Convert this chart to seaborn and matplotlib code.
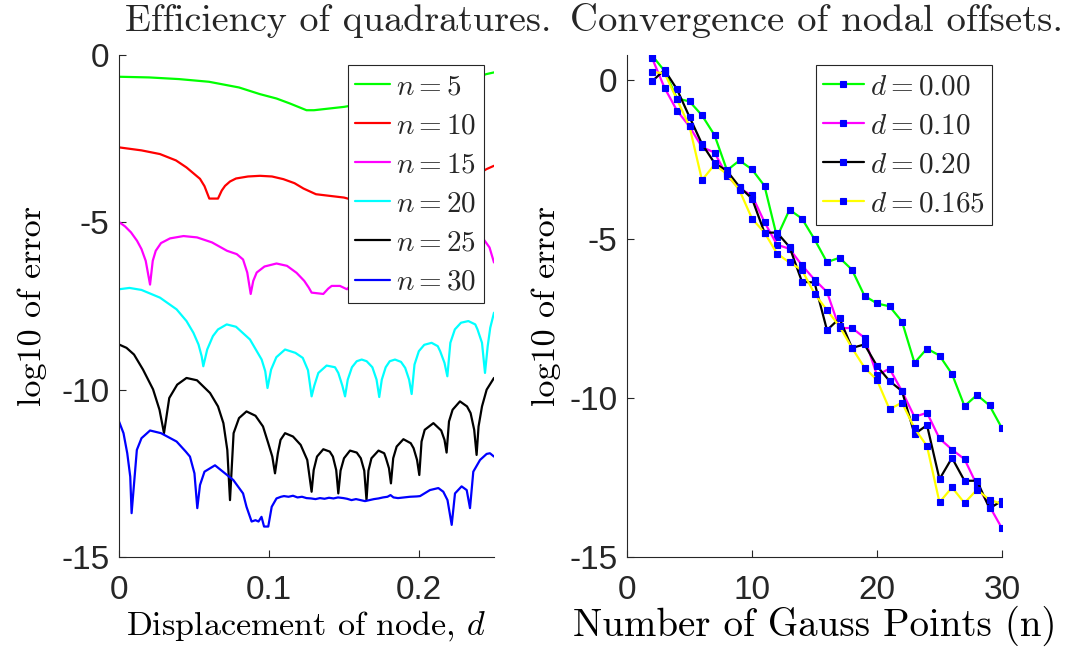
import numpy as np
import pandas as pd
import matplotlib
matplotlib.use("Agg")
import matplotlib.pyplot as plt
import seaborn as sns

# ---------------- Left panel data: log10 error vs displacement d ----------------
d5 = [0, 0.02, 0.04, 0.06, 0.08, 0.094, 0.105, 0.114, 0.125, 0.13, 0.15, 0.17, 0.19, 0.21, 0.23, 0.245, 0.25]
e5 = [-0.65, -0.67, -0.72, -0.80, -0.97, -1.17, -1.3, -1.45, -1.65, -1.65, -1.55, -1.4, -1.22, -1.0, -0.78, -0.57, -0.52]

d10 = [0, 0.015, 0.0273, 0.038, 0.045, 0.054, 0.057, 0.0602, 0.066, 0.0685, 0.0707, 0.074, 0.078, 0.086, 0.094,
       0.102, 0.1096, 0.117, 0.123, 0.1313, 0.15, 0.17, 0.19, 0.21, 0.23, 0.245, 0.25]
e10 = [-2.76, -2.85, -2.96, -3.15, -3.36, -3.7, -3.92, -4.29, -4.29, -4.05, -3.91, -3.78, -3.69, -3.63, -3.61,
       -3.63, -3.71, -3.83, -3.99, -4.16, -4.26, -4.5, -4.3, -4.0, -3.8, -3.41, -3.31]

d15 = [0, 0.004, 0.008, 0.012, 0.015, 0.0178, 0.0207, 0.0225, 0.0245, 0.028, 0.034, 0.043, 0.052, 0.062,
       0.072, 0.0785, 0.0827, 0.0855, 0.0878, 0.0895, 0.0918, 0.097, 0.105, 0.112, 0.1184, 0.1235, 0.1265,
       0.1284, 0.1362, 0.1395, 0.1418, 0.1473, 0.152, 0.16, 0.175, 0.19, 0.2, 0.21, 0.225, 0.237, 0.243,
       0.247, 0.25]
e15 = [-4.99, -5.12, -5.3, -5.55, -5.8, -6.15, -6.86, -6.15, -5.85, -5.62, -5.48, -5.41, -5.45, -5.6,
       -5.85, -5.95, -6.11, -6.5, -7.14, -6.75, -6.5, -6.32, -6.23, -6.3, -6.51, -6.75, -6.95,
       -7.1, -7.14, -6.98, -6.9, -6.9, -7.0, -6.6, -6.3, -6.5, -6.9, -6.3, -5.7, -5.45, -5.5,
       -5.75, -6.2]

d20 = [0, 0.007, 0.015, 0.0273, 0.0384, 0.045, 0.0496, 0.053, 0.0551, 0.0562,
       0.0588, 0.0626, 0.066, 0.0718, 0.078, 0.0873, 0.0951, 0.0975, 0.099,
       0.1014, 0.1049, 0.1107, 0.1176, 0.1225, 0.126, 0.1284,
       0.1302, 0.1329, 0.1384, 0.144, 0.1462, 0.1489, 0.1507,
       0.1525, 0.1553, 0.1585, 0.1618, 0.1651, 0.1689, 0.1717, 0.1735,
       0.1752, 0.1778, 0.1805, 0.184, 0.188, 0.1908, 0.1934, 0.1951,
       0.197, 0.1999, 0.2035, 0.2084, 0.2125, 0.2141, 0.217, 0.2189,
       0.2209, 0.2239, 0.228, 0.2329, 0.2375, 0.239, 0.242, 0.244,
       0.2458, 0.2475, 0.25]
e20 = [-7.0, -6.96, -7.02, -7.25, -7.6, -7.95, -8.3, -8.65, -9.0, -9.3,
       -8.8, -8.4, -8.2, -8.05, -8.12, -8.5, -9.1, -9.45, -9.95,
       -9.4, -9.03, -8.8, -8.9, -9.05, -9.42, -10.2,
       -9.88, -9.5, -9.28, -9.33, -9.5, -9.88, -10.2,
       -9.7, -9.33, -9.15, -9.1, -9.15, -9.33, -9.7, -10.22,
       -9.7, -9.33, -9.15, -9.1, -9.17, -9.35, -9.7, -10.13,
       -9.25, -8.85, -8.66, -8.6, -8.7, -8.85, -9.2, -9.6,
       -8.6, -8.2, -8.0, -7.95, -8.05, -8.2, -8.6, -9.5,
       -8.7, -8.15, -7.7]

d25 = [0, 0.005, 0.01, 0.016, 0.0227, 0.027, 0.03,
       0.0335, 0.0388, 0.045, 0.052, 0.0607, 0.066, 0.0696, 0.0722, 0.074,
       0.0764, 0.08, 0.085, 0.091, 0.096, 0.0995, 0.1022, 0.104,
       0.1059, 0.1077, 0.1107, 0.116, 0.1211, 0.1255, 0.1284,
       0.1298, 0.132, 0.1362, 0.1405, 0.1426, 0.1448, 0.1462,
       0.1477, 0.15, 0.154, 0.1585, 0.1612, 0.1635, 0.165,
       0.1663, 0.1683, 0.173, 0.1768, 0.178, 0.18, 0.1813,
       0.1828, 0.1851, 0.1896, 0.1945, 0.1964, 0.1987, 0.2002,
       0.2017, 0.2038, 0.2096, 0.2148, 0.217, 0.2184,
       0.22, 0.2224, 0.2273, 0.232, 0.2344, 0.2368, 0.2384,
       0.2397, 0.242, 0.2451, 0.25]
e25 = [-8.65, -8.75, -8.95, -9.4, -9.99, -10.6, -11.3,
       -10.25, -9.85, -9.65, -9.72, -10.1, -10.5, -11.0, -11.8, -13.3,
       -11.3, -10.85, -10.65, -10.78, -11.1, -11.6, -12.0, -12.5,
       -11.9, -11.5, -11.3, -11.4, -11.65, -12.1, -13.05,
       -12.4, -12.0, -11.78, -11.85, -12.0, -12.4, -13.1,
       -12.42, -12.05, -11.82, -11.88, -12.05, -12.42, -13.3,
       -12.42, -12.05, -11.82, -11.9, -12.05, -12.35, -12.8,
       -12.05, -11.7, -11.48, -11.6, -11.75, -12.1, -12.55,
       -11.55, -11.2, -11.0, -11.22, -11.5, -11.88,
       -10.95, -10.6, -10.35, -10.5, -10.7, -11.2, -11.95,
       -11.1, -10.5, -10.0, -9.65]

d30 = [0, 0.003, 0.0055, 0.0075, 0.0084,
       0.0119, 0.015, 0.0207, 0.028, 0.0384, 0.0445, 0.0473, 0.0503, 0.0522,
       0.054, 0.057, 0.064, 0.0762, 0.0827, 0.085, 0.0884, 0.091, 0.093, 0.095, 0.0967, 0.0995,
       0.1018, 0.105, 0.108, 0.11, 0.113, 0.116, 0.119, 0.122, 0.125, 0.128, 0.131, 0.134,
       0.137, 0.14, 0.143, 0.146, 0.1496, 0.152, 0.155, 0.158, 0.161, 0.164, 0.167, 0.17,
       0.173, 0.176, 0.179, 0.181, 0.183, 0.186, 0.19, 0.194, 0.1985, 0.2007, 0.2073, 0.2129,
       0.2162, 0.219, 0.2218, 0.224, 0.2284, 0.2318, 0.234, 0.2362, 0.2407, 0.2451, 0.2473, 0.25]
e30 = [-10.95, -11.3, -11.9, -12.6, -13.69,
       -11.8, -11.45, -11.22, -11.3, -11.55, -11.85, -12.0, -12.5, -13.54,
       -12.85, -12.45, -12.26, -12.7, -13.1, -13.5, -13.94, -13.9, -13.94, -13.8, -14.09, -14.09,
       -13.5, -13.25, -13.2, -13.18, -13.2, -13.17, -13.22, -13.2, -13.24, -13.25, -13.27, -13.24,
       -13.26, -13.23, -13.25, -13.22, -13.24, -13.26, -13.3, -13.27, -13.3, -13.33, -13.3, -13.27,
       -13.25, -13.22, -13.2, -13.15, -13.22, -13.24, -13.22, -13.2, -13.19, -13.18, -13.0, -12.94,
       -13.05, -13.3, -14.04, -13.1, -12.89, -13.0, -13.54, -12.45, -12.1, -11.92, -11.9, -12.0]

left_labels = ["$n = 5$", "$n = 10$", "$n = 15$", "$n = 20$", "$n = 25$", "$n = 30$"]
left_colors = ["#00ff00", "#ff0000", "#ff00ff", "#00ffff", "#000000", "#0000ff"]

# ---------------- Right panel data: log10 error vs number of Gauss points ----------------
n_pts = list(range(2, 31))
err_d000 = [0.79, 0.3, -0.57, -0.66, -1.1, -1.72, -2.83, -2.52, -2.8, -3.32, -4.93, -4.07, -4.35, -5.0,
            -5.72, -5.58, -5.96, -6.78, -7.02, -7.11, -7.59, -8.89, -8.44, -8.66, -9.24, -10.25, -9.9,
            -10.23, -10.95]
err_d010 = [0.71, -0.23, -0.95, -1.45, -2.1, -2.27, -3.0, -3.4, -3.62, -4.46, -5.17, -5.3, -5.82, -6.27,
            -6.66, -7.8, -7.79, -8.1, -9.28, -9.07, -9.78, -10.59, -10.46, -11.27, -11.62, -11.92, -12.74,
            -13.4, -14.1]
err_d020 = [-0.03, 0.33, -0.28, -1.15, -2.0, -2.6, -2.85, -3.35, -3.72, -4.79, -4.79, -5.24, -6.34, -6.36,
            -7.86, -7.49, -8.42, -8.31, -8.99, -9.46, -9.78, -11.13, -10.85, -12.55, -11.88, -12.6, -12.6,
            -13.47, -13.23]
err_d0165 = [0.26, 0.23, -0.6, -1.45, -3.14, -2.65, -2.95, -3.46, -4.35, -4.79, -5.45, -5.73, -5.97, -6.71,
             -7.23, -7.74, -8.42, -9.04, -9.43, -10.35, -10.14, -10.95, -11.51, -13.28, -12.81, -13.3, -12.88,
             -13.2, -13.33]
right_labels = ["$d = 0.00$", "$d = 0.10$", "$d = 0.20$", "$d = 0.165$"]
right_colors = ["#00ff00", "#ff00ff", "#000000", "#ffff00"]

# ---------------- Styling ----------------
sns.set_style("ticks")
plt.rcParams["font.family"] = ["Liberation Sans", "DejaVu Sans"]
plt.rcParams["mathtext.fontset"] = "cm"
plt.rcParams["axes.unicode_minus"] = False

fig = plt.figure(figsize=(10.65, 6.58), dpi=100)
axL = fig.add_axes([119 / 1065, 101 / 658, 375 / 1065, 502 / 658])
axR = fig.add_axes([627 / 1065, 101 / 658, 375 / 1065, 502 / 658])

dark = "#262626"
serif = "cmr10"
TICK_FS = 24
LAB_FS = 24.5
LEG_FS = 21

# Left panel
left_d = [d5, d10, d15, d20, d25, d30]
left_e = [e5, e10, e15, e20, e25, e30]
for dd, ee, lab, col in zip(left_d, left_e, left_labels, left_colors):
    df = pd.DataFrame({"d": dd, "err": ee})
    sns.lineplot(data=df, x="d", y="err", ax=axL, color=col, lw=1.6, sort=False,
                 estimator=None, label=lab)

axL.set_xlim(0, 0.25)
axL.set_ylim(-15, 0)
axL.set_xticks([0, 0.1, 0.2])
axL.set_xticklabels(["0", "0.1", "0.2"])
axL.set_yticks([-15, -10, -5, 0])
axL.set_yticklabels(["-15", "-10", "-5", "0"])
axL.set_xlabel("Displacement of node, $d$", fontsize=LAB_FS, family=serif, labelpad=2)
axL.set_ylabel("log10 of error", fontsize=LAB_FS, family=serif, labelpad=10)
axL.set_title("Efficiency of quadratures.", fontsize=27.4, family=serif, x=0.585, pad=17)
legL = axL.legend(loc="upper right", bbox_to_anchor=(0.973, 0.98), fontsize=LEG_FS, frameon=True,
                  fancybox=False, framealpha=1, edgecolor=dark, handlelength=1.2, handletextpad=0.2,
                  labelspacing=0.38, borderpad=0.25, borderaxespad=0)
legL.get_frame().set_linewidth(0.8)

# Right panel
right_e = [err_d000, err_d010, err_d020, err_d0165]
for ee, lab, col in zip(right_e, right_labels, right_colors):
    df = pd.DataFrame({"n": n_pts, "err": ee})
    sns.lineplot(data=df, x="n", y="err", ax=axR, color=col, lw=1.6, sort=False, estimator=None,
                 marker="s", markersize=4.6, markerfacecolor="#0000ff", markeredgecolor="#0000ff",
                 markeredgewidth=0.8, label=lab)

axR.set_xlim(0, 30)
axR.set_ylim(-15, 0.8)
axR.set_xticks([0, 10, 20, 30])
axR.set_xticklabels(["0", "10", "20", "30"])
axR.set_yticks([-15, -10, -5, 0])
axR.set_yticklabels(["-15", "-10", "-5", "0"])
axR.set_xlabel("Number of Gauss Points (n)", fontsize=28.0, family=serif, labelpad=0)
axR.set_ylabel("log10 of error", fontsize=LAB_FS, family=serif, labelpad=6)
axR.set_title("Convergence of nodal offsets.", fontsize=27.9, family=serif, x=0.505, pad=17)
legR = axR.legend(loc="upper right", bbox_to_anchor=(0.973, 0.98), fontsize=LEG_FS, frameon=True,
                  fancybox=False, framealpha=1, edgecolor=dark, handlelength=1.4, handletextpad=0.2,
                  labelspacing=0.38, borderpad=0.25, borderaxespad=0)
legR.get_frame().set_linewidth(0.8)

for ax in (axL, axR):
    sns.despine(ax=ax)
    for s in ("left", "bottom"):
        ax.spines[s].set_color(dark)
        ax.spines[s].set_linewidth(0.8)
    ax.tick_params(direction="in", length=5, width=0.8, colors=dark, labelsize=TICK_FS,
                   labelcolor=dark)
    ax.tick_params(axis="y", pad=7)
    ax.tick_params(axis="x", pad=13)
    ax.xaxis.label.set_color("black")
    ax.yaxis.label.set_color("black")

fig.savefig("out.png", dpi=100)
